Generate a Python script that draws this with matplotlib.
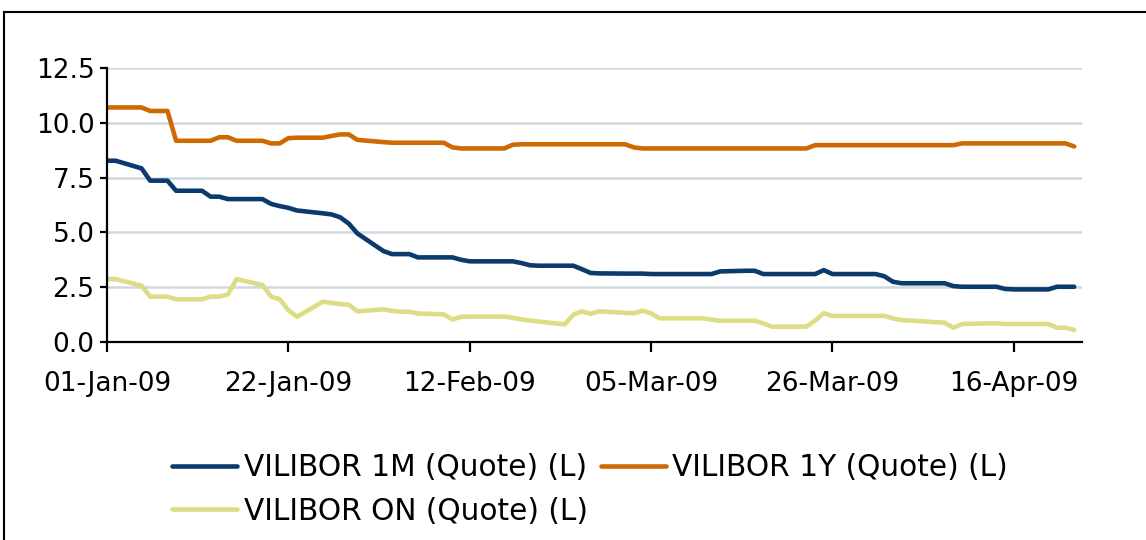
import matplotlib
matplotlib.use("Agg")
import matplotlib.pyplot as plt
import matplotlib.dates as mdates
from matplotlib.lines import Line2D
import datetime as dt

dates = [
    "2009-01-01", "2009-01-02", "2009-01-05", "2009-01-06", "2009-01-07", "2009-01-08", "2009-01-09",
    "2009-01-12", "2009-01-13", "2009-01-14", "2009-01-15", "2009-01-16",
    "2009-01-19", "2009-01-20", "2009-01-21", "2009-01-22", "2009-01-23",
    "2009-01-26", "2009-01-27", "2009-01-28", "2009-01-29", "2009-01-30",
    "2009-02-02", "2009-02-03", "2009-02-04", "2009-02-05", "2009-02-06",
    "2009-02-09", "2009-02-10", "2009-02-11", "2009-02-12", "2009-02-13",
    "2009-02-16", "2009-02-17", "2009-02-18", "2009-02-19", "2009-02-20",
    "2009-02-23", "2009-02-24", "2009-02-25", "2009-02-26", "2009-02-27",
    "2009-03-02", "2009-03-03", "2009-03-04", "2009-03-05", "2009-03-06",
    "2009-03-09", "2009-03-10", "2009-03-11", "2009-03-12", "2009-03-13",
    "2009-03-16", "2009-03-17", "2009-03-18", "2009-03-19", "2009-03-20",
    "2009-03-23", "2009-03-24", "2009-03-25", "2009-03-26", "2009-03-27",
    "2009-03-30", "2009-03-31", "2009-04-01", "2009-04-02", "2009-04-03",
    "2009-04-06", "2009-04-07", "2009-04-08", "2009-04-09", "2009-04-10",
    "2009-04-13", "2009-04-14", "2009-04-15", "2009-04-16", "2009-04-17",
    "2009-04-20", "2009-04-21", "2009-04-22", "2009-04-23",
]

vilibor_1m = [
    8.27, 8.27, 7.92, 7.36, 7.36, 7.36, 6.90,
    6.90, 6.63, 6.63, 6.52, 6.52,
    6.52, 6.30, 6.20, 6.12, 6.00,
    5.87, 5.82, 5.69, 5.40, 4.95,
    4.15, 4.01, 4.01, 4.01, 3.86,
    3.86, 3.86, 3.75, 3.68, 3.68,
    3.68, 3.68, 3.60, 3.50, 3.48,
    3.48, 3.48, 3.32, 3.15, 3.13,
    3.12, 3.12, 3.12, 3.10, 3.10,
    3.10, 3.10, 3.10, 3.10, 3.22,
    3.25, 3.25, 3.10, 3.10, 3.10,
    3.10, 3.10, 3.28, 3.10, 3.10,
    3.10, 3.10, 3.00, 2.75, 2.68,
    2.68, 2.68, 2.68, 2.55, 2.52,
    2.52, 2.52, 2.42, 2.40, 2.40,
    2.40, 2.52, 2.52, 2.52,
]

vilibor_1y = [
    10.70, 10.70, 10.70, 10.54, 10.54, 10.54, 9.18,
    9.18, 9.18, 9.34, 9.34, 9.18,
    9.18, 9.06, 9.06, 9.30, 9.32,
    9.32, 9.40, 9.47, 9.47, 9.22,
    9.12, 9.09, 9.09, 9.09, 9.09,
    9.09, 8.88, 8.83, 8.83, 8.83,
    8.83, 9.00, 9.02, 9.02, 9.02,
    9.02, 9.02, 9.02, 9.02, 9.02,
    9.02, 8.88, 8.83, 8.83, 8.83,
    8.83, 8.83, 8.83, 8.83, 8.83,
    8.83, 8.83, 8.83, 8.83, 8.83,
    8.83, 8.98, 8.98, 8.98, 8.98,
    8.98, 8.98, 8.98, 8.98, 8.98,
    8.98, 8.98, 8.98, 8.98, 9.06,
    9.06, 9.06, 9.06, 9.06, 9.06,
    9.06, 9.06, 9.06, 8.92,
]

vilibor_on = [
    2.87, 2.87, 2.57, 2.07, 2.07, 2.07, 1.95,
    1.95, 2.07, 2.07, 2.17, 2.87,
    2.60, 2.07, 1.95, 1.45, 1.15,
    1.84, 1.78, 1.73, 1.70, 1.40,
    1.49, 1.42, 1.38, 1.38, 1.30,
    1.26, 1.03, 1.15, 1.16, 1.16,
    1.16, 1.10, 1.03, 0.98, 0.93,
    0.80, 1.25, 1.40, 1.28, 1.40,
    1.33, 1.31, 1.43, 1.31, 1.08,
    1.08, 1.08, 1.08, 1.02, 0.97,
    0.97, 0.97, 0.85, 0.70, 0.70,
    0.70, 0.98, 1.31, 1.19, 1.19,
    1.19, 1.19, 1.19, 1.08, 1.00,
    0.93, 0.90, 0.88, 0.65, 0.82,
    0.85, 0.85, 0.82, 0.82, 0.82,
    0.82, 0.65, 0.65, 0.55,
]

series_labels = ["VILIBOR 1M (Quote) (L)", "VILIBOR 1Y (Quote) (L)", "VILIBOR ON (Quote) (L)"]
series_colors = ["#0A3B6C", "#CF6A02", "#DCDD84"]
y_ticks = [0.0, 2.5, 5.0, 7.5, 10.0, 12.5]
x_tick_dates = ["2009-01-01", "2009-01-22", "2009-02-12", "2009-03-05", "2009-03-26", "2009-04-16"]

plt.rcParams['font.family'] = ['DejaVu Sans']
FS_TICK = 19
FS_LEG = 21.3

x = [dt.datetime.strptime(d, "%Y-%m-%d") for d in dates]

fig = plt.figure(figsize=(11.46, 5.40), dpi=100)
ax = fig.add_axes([107/1146, 1 - 342/540, (1082 - 107)/1146, (342 - 68)/540])

for yt in y_ticks[1:]:
    ax.axhline(yt, color="#CFD8E0", lw=1.8, zorder=1)

lines = []
for vals, lab, col in zip([vilibor_1m, vilibor_1y, vilibor_on], series_labels, series_colors):
    ln, = ax.plot(x, vals, color=col, lw=3.3, label=lab, solid_joinstyle="round",
                  solid_capstyle="round", zorder=3)
    lines.append(ln)

x0 = mdates.date2num(dt.datetime(2009, 1, 1))
ax.set_xlim(x0, x0 + 112.9)
ax.set_ylim(0, 12.5)
ax.set_yticks(y_ticks)
ax.set_yticklabels([f"{v:.1f}" for v in y_ticks])
ax.set_xticks([mdates.date2num(dt.datetime.strptime(d, "%Y-%m-%d")) for d in x_tick_dates])
ax.xaxis.set_major_formatter(mdates.DateFormatter("%d-%b-%y"))

for s in ["top", "right"]:
    ax.spines[s].set_visible(False)
for s in ["left", "bottom"]:
    ax.spines[s].set_linewidth(1.6)
    ax.spines[s].set_color("black")
    ax.spines[s].set_zorder(4)

ax.tick_params(axis="y", direction="out", length=5, width=1.6, pad=4, labelsize=FS_TICK)
ax.tick_params(axis="x", direction="out", length=7, width=1.6, pad=14, labelsize=FS_TICK)

handles = [lines[0], lines[2], lines[1]]
labels = [series_labels[0], series_labels[2], series_labels[1]]
fig.legend(handles, labels, loc="upper left", bbox_to_anchor=(172/1146, 1 - 453/540),
           ncol=2, frameon=False, fontsize=FS_LEG, handlelength=2.2, handletextpad=0.22,
           columnspacing=0.45, labelspacing=0.5, borderpad=0, borderaxespad=0)

fig.add_artist(Line2D([4/1146, 1.0], [1 - 12/540, 1 - 12/540], color="black", lw=1.5,
                      transform=fig.transFigure))
fig.add_artist(Line2D([4/1146, 4/1146], [0, 1 - 12/540], color="black", lw=1.5,
                      transform=fig.transFigure))

fig.savefig("out.png", dpi=100)
